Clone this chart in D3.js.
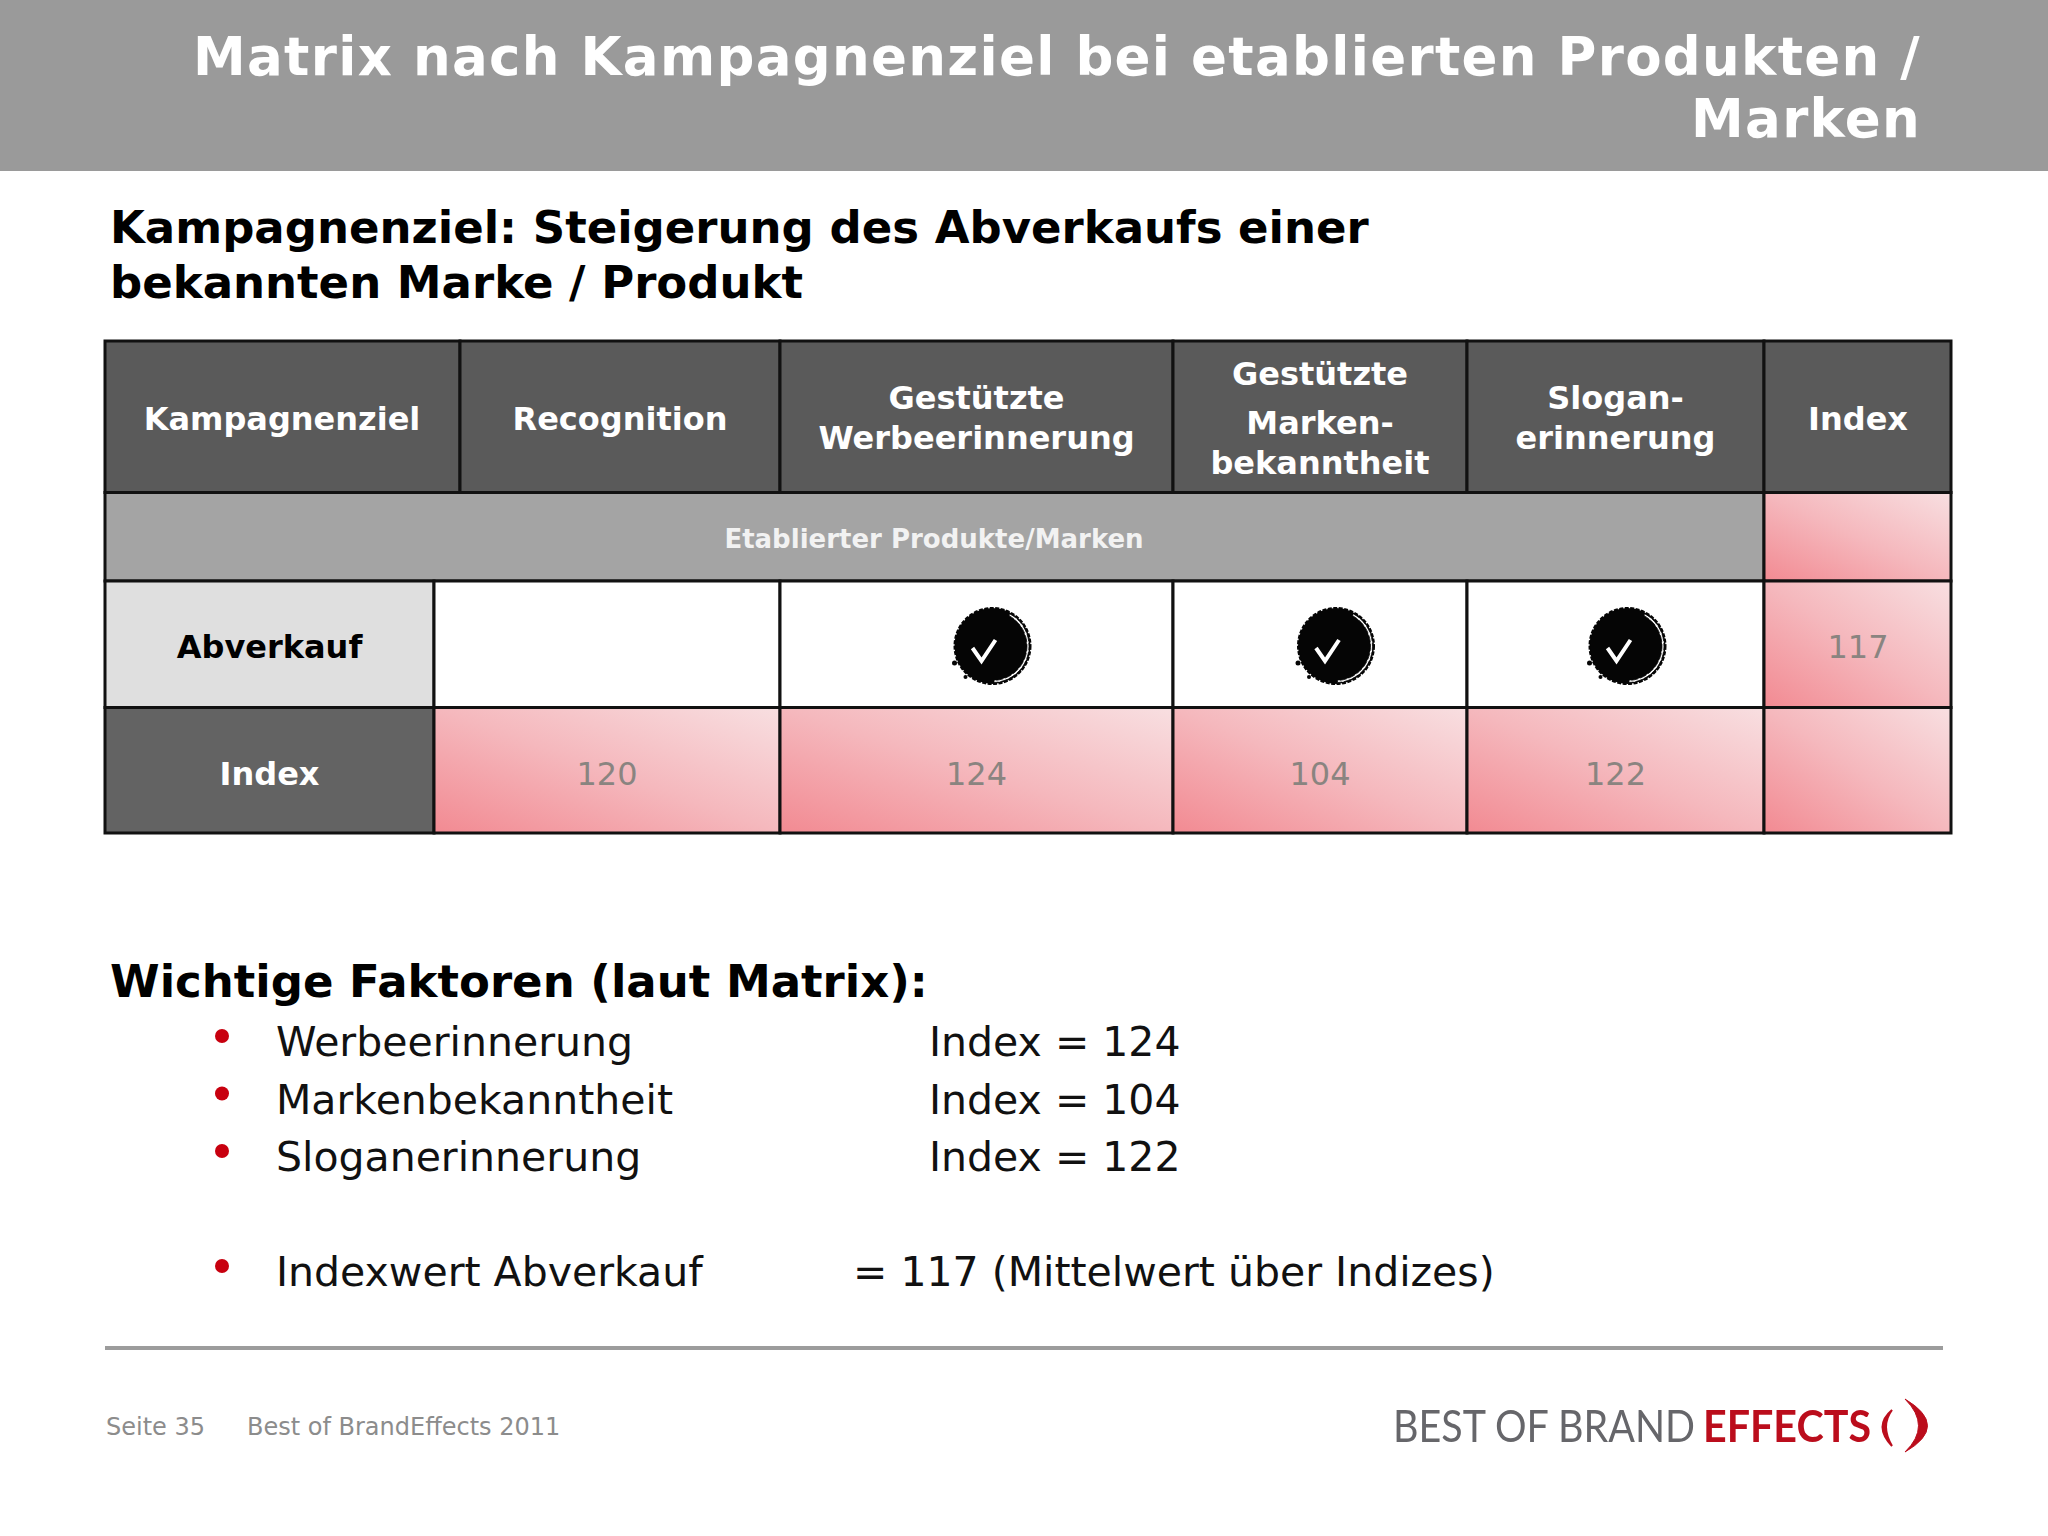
<!DOCTYPE html>
<html>
<head>
<meta charset="utf-8">
<script src="https://cdn.jsdelivr.net/npm/d3@7"></script>
<style>
    body { margin: 0; background: #fff; }
    text { font-family: "DejaVu Sans", sans-serif; }
</style>
</head>
<body>
<div id="chart"></div>
<script>
    // chart data
    const columns = ["Recognition", "Werbeerinnerung", "Markenbekanntheit", "Sloganerinnerung"]
    const columnHeads = [
        ["Recognition"],
        ["Gestützte", "Werbeerinnerung"],
        ["Gestützte", "Marken-", "bekanntheit"],
        ["Slogan-", "erinnerung"]
    ]
    const indexValues = [120, 124, 104, 122]
    const checked = [false, true, true, true]
    const totalIndex = 117
    const factors = ["Werbeerinnerung", "Markenbekanntheit", "Sloganerinnerung"]
    const factorIndex = [124, 104, 122]
    const titleLines = ["Matrix nach Kampagnenziel bei etablierten Produkten /", "Marken"]
    const headingLines = ["Kampagnenziel: Steigerung des Abverkaufs einer", "bekannten Marke / Produkt"]

    const width = 2048
    const height = 1536

    const svg = d3.select("#chart").append("svg")
        .attr("width", width)
        .attr("height", height)
        .style("display", "block")

    // gradient of the index cells
    const defs = svg.append("defs")
    const grad = defs.append("linearGradient")
        .attr("id", "pink")
        .attr("x1", 0).attr("y1", 1).attr("x2", 1).attr("y2", 0)
    grad.append("stop").attr("offset", 0).attr("stop-color", "#f28a92")
    grad.append("stop").attr("offset", 0.5).attr("stop-color", "#f5b8bd")
    grad.append("stop").attr("offset", 1).attr("stop-color", "#f8dfe1")

    defs.append("filter").attr("id", "soft")
        .append("feGaussianBlur").attr("stdDeviation", 0.7)

    // scales for the table
    const xLeft = d3.scaleOrdinal().domain(["label"].concat(columns, ["total"]))
        .range([105, 460, 780, 1173, 1467, 1764])
    const xRight = d3.scaleOrdinal().domain(["label"].concat(columns, ["total"]))
        .range([460, 780, 1173, 1467, 1764, 1951])
    const yRow = d3.scaleOrdinal().domain(["head", "group", "sale", "index", "end"])
        .range([341, 492.5, 581, 707.5, 833])

    // title bar
    svg.append("rect")
        .attr("width", width).attr("height", 171)
        .attr("fill", "#9a9a9a")

    svg.selectAll(".title")
        .data(titleLines)
        .enter().append("text")
        .attr("class", "title")
        .attr("x", 1921)
        .attr("y", function (d, i) { return 75 + i * 62 })
        .attr("text-anchor", "end")
        .attr("font-size", 53)
        .attr("font-weight", "bold")
        .attr("letter-spacing", 1.3)
        .attr("fill", "#fff")
        .text(function (d) { return d })

    svg.selectAll(".heading")
        .data(headingLines)
        .enter().append("text")
        .attr("class", "heading")
        .attr("x", 110)
        .attr("y", function (d, i) { return 243 + i * 55 })
        .attr("font-size", 45)
        .attr("font-weight", "bold")
        .attr("fill", "#000")
        .text(function (d) { return d })

    // ------------------------------------------------------------------
    function cell(x0, x1, y0, y1, fill) {
        svg.append("rect")
            .attr("x", x0)
            .attr("y", y0)
            .attr("width", x1 - x0)
            .attr("height", y1 - y0)
            .attr("fill", fill)
            .attr("stroke", "#111")
            .attr("stroke-width", 3)
    }

    function label(x, y, str, size, weight, fill) {
        svg.append("text")
            .attr("x", x)
            .attr("y", y)
            .attr("text-anchor", "middle")
            .attr("font-size", size)
            .attr("font-weight", weight)
            .attr("fill", fill)
            .text(str)
    }

    function checkMark(cx, cy) {
        const g = svg.append("g").attr("transform", "translate(" + cx + "," + cy + ")")
        g.append("circle").attr("r", 38).attr("fill", "#050505")
            .attr("stroke", "#050505").attr("stroke-width", 2)
            .attr("stroke-dasharray", "4 1.5")
        // broken white ring on the lower right
        g.append("path")
            .attr("d", d3.arc().innerRadius(34.5).outerRadius(36.5).startAngle(0.5).endAngle(3.1)())
            .attr("fill", "#fff")
            .attr("stroke", "#050505").attr("stroke-width", 0.8)
            .attr("stroke-dasharray", "7 2")
        g.append("path")
            .attr("d", "M-20,2 L-11,15 L3,-6")
            .attr("fill", "none")
            .attr("stroke", "#fff")
            .attr("stroke-width", 4)
        g.append("circle").attr("cx", -38).attr("cy", 17).attr("r", 2.5).attr("fill", "#050505")
        g.append("circle").attr("cx", -27).attr("cy", 31).attr("r", 2).attr("fill", "#050505")
    }

    // header row
    cell(xLeft("label"), xRight("label"), yRow("head"), yRow("group"), "#5a5a5a")
    label(282, 430, "Kampagnenziel", 32, "bold", "#fff")

    const headBaselines = [[430], [409, 449], [385, 434, 474], [409, 449]]
    columns.forEach(function (c, i) {
        cell(xLeft(c), xRight(c), yRow("head"), yRow("group"), "#5a5a5a")
        columnHeads[i].forEach(function (str, j) {
            label((xLeft(c) + xRight(c)) / 2, headBaselines[i][j], str, 32, "bold", "#fff")
        })
    })
    cell(xLeft("total"), xRight("total"), yRow("head"), yRow("group"), "#5a5a5a")
    label(1858, 430, "Index", 32, "bold", "#fff")

    // group row
    cell(xLeft("label"), xLeft("total"), yRow("group"), yRow("sale"), "#a4a4a4")
    cell(xLeft("total"), xRight("total"), yRow("group"), yRow("sale"), "url(#pink)")
    label(934, 548, "Etablierter Produkte/Marken", 26, "bold", "#f2f2f2")

    // Abverkauf and Index rows, the first column is narrower there
    const narrowEdge = 434
    const markOffset = [0, 16, 16, 12]

    cell(xLeft("label"), narrowEdge, yRow("sale"), yRow("index"), "#dfdfdf")
    cell(xLeft("label"), narrowEdge, yRow("index"), yRow("end"), "#636363")
    label(269.5, 658, "Abverkauf", 32, "bold", "#000")
    label(269.5, 785, "Index", 32, "bold", "#fff")

    columns.forEach(function (c, i) {
        const x0 = i === 0 ? narrowEdge : xLeft(c)
        const x1 = xRight(c)
        const mid = (x0 + x1) / 2
        cell(x0, x1, yRow("sale"), yRow("index"), "#fff")
        cell(x0, x1, yRow("index"), yRow("end"), "url(#pink)")
        if (checked[i]) checkMark(mid + markOffset[i], 646)
        label(mid, 785, indexValues[i], 32, "normal", "#8a8480")
    })

    cell(xLeft("total"), xRight("total"), yRow("sale"), yRow("index"), "url(#pink)")
    cell(xLeft("total"), xRight("total"), yRow("index"), yRow("end"), "url(#pink)")
    label(1858, 658, totalIndex, 32, "normal", "#8a8480")

    // factor list
    svg.append("text")
        .attr("x", 110)
        .attr("y", 997)
        .attr("font-size", 45)
        .attr("font-weight", "bold")
        .text("Wichtige Faktoren (laut Matrix):")

    const factorY = d3.scalePoint().domain(factors).range([1056, 1171])

    function bullet(y) {
        svg.append("circle")
            .attr("cx", 222)
            .attr("cy", y - 20)
            .attr("r", 7)
            .attr("fill", "#c8000f")
    }

    function listText(x, y, str) {
        svg.append("text")
            .attr("x", x)
            .attr("y", y)
            .attr("font-size", 41)
            .attr("fill", "#111")
            .text(str)
    }

    factors.forEach(function (f, i) {
        bullet(factorY(f))
        listText(276, factorY(f), f)
        listText(929, factorY(f), "Index = " + factorIndex[i])
    })

    bullet(1286)
    listText(276, 1286, "Indexwert Abverkauf")
    listText(853, 1286, "= " + totalIndex + " (Mittelwert über Indizes)")

    // footer
    svg.append("rect")
        .attr("x", 105).attr("y", 1346)
        .attr("width", 1838).attr("height", 4)
        .attr("fill", "#9c9c9c")

    svg.append("text").attr("x", 106).attr("y", 1435)
        .attr("font-size", 24).attr("fill", "#8c8c8c").text("Seite 35")
    svg.append("text").attr("x", 247).attr("y", 1435)
        .attr("font-size", 24).attr("fill", "#8c8c8c").text("Best of BrandEffects 2011")

    // logo
    const logo = svg.append("g").attr("filter", "url(#soft)")
    logo.append("text").attr("x", 1393).attr("y", 1442)
        .attr("font-size", 44).attr("fill", "#66666a")
        .attr("textLength", 302).attr("lengthAdjust", "spacingAndGlyphs")
        .style("font-family", "Lato").text("BEST OF BRAND")
    logo.append("text").attr("x", 1703).attr("y", 1442)
        .attr("font-size", 44).attr("font-weight", "bold").attr("fill", "#bb0f1e")
        .attr("textLength", 168).attr("lengthAdjust", "spacingAndGlyphs")
        .style("font-family", "Lato").text("EFFECTS")
    logo.append("path")
        .attr("d", "M1892,1410 Q1873,1426 1892,1446 Q1880,1426 1892,1410 Z")
        .attr("fill", "#bb0f1e").attr("stroke", "#bb0f1e").attr("stroke-width", 2)
    logo.append("path")
        .attr("d", "M1905,1399 Q1950,1426 1905,1452 Q1932,1426 1905,1399 Z")
        .attr("fill", "#bb0f1e").attr("stroke", "#bb0f1e").attr("stroke-width", 1)
</script>
</body>
</html>
